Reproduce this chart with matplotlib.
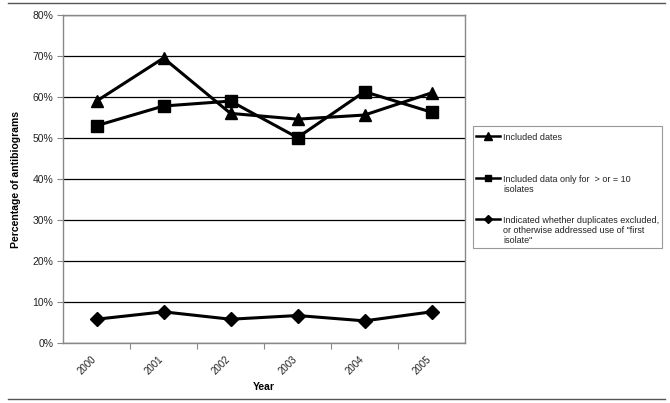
import matplotlib
matplotlib.use("Agg")
import matplotlib.pyplot as plt
from matplotlib.lines import Line2D
from matplotlib.patches import Rectangle

years = ["2000", "2001", "2002", "2003", "2004", "2005"]
included_dates = [59.0, 69.5, 56.0, 54.6, 55.6, 61.0]
data_ge10 = [53.0, 57.8, 59.0, 50.1, 61.3, 56.3]
duplicates = [5.8, 7.6, 5.8, 6.7, 5.4, 7.6]
labels = ["Included dates",
          "Included data only for  > or = 10\nisolates",
          "Indicated whether duplicates excluded,\nor otherwise addressed use of \"first\nisolate\""]
yticks = [0, 10, 20, 30, 40, 50, 60, 70, 80]

plt.rcParams['font.family'] = ['Liberation Sans', 'DejaVu Sans']

W, H = 670, 403
fig = plt.figure(figsize=(W / 100, H / 100), dpi=100)
ax = fig.add_axes([63 / W, 1 - 343 / H, (465 - 63) / W, (343 - 15) / H])

x = list(range(len(years)))
series = [(included_dates, '^', 9), (data_ge10, 's', 8), (duplicates, 'D', 7.5)]
for vals, m, ms in series:
    ax.plot(x, vals, color='black', lw=2.2, marker=m, markersize=ms, zorder=3)

ax.set_xlim(-0.5, len(years) - 0.5)
ax.set_ylim(0, 80)
ax.set_yticks(yticks)
ax.set_yticklabels([f"{v}%" for v in yticks], fontsize=7.5, color='#222222')
ax.yaxis.grid(True, color='black', lw=0.9)
ax.set_axisbelow(True)
ax.set_xticks([i + 0.5 for i in range(len(years) - 1)])
ax.set_xticklabels([])
ax.set_xticks([i - 0.08 for i in x], minor=True)
ax.set_xticklabels(years, minor=True, rotation=45, fontsize=7, ha='right', va='top',
                   rotation_mode='anchor', color='#222222')
ax.tick_params(axis='x', which='minor', length=0, pad=8)
ax.tick_params(axis='x', which='major', length=4, color='#888888', direction='out')
ax.tick_params(axis='y', length=4, color='#888888', direction='out', pad=3)
for s in ax.spines.values():
    s.set_color('#888888')
    s.set_linewidth(1)
ax.set_xlabel("Year", fontsize=7.5, fontweight='bold', labelpad=4)
ax.set_ylabel("Percentage of antibiograms", fontsize=7.5, fontweight='bold', labelpad=8)

# figure border lines
fig.add_artist(Line2D([8 / W, 665 / W], [1 - 3 / H, 1 - 3 / H], color='#555555', lw=1))
fig.add_artist(Line2D([8 / W, 665 / W], [1 - 399 / H, 1 - 399 / H], color='#555555', lw=1))

# legend box
lx0, lx1, ly0, ly1 = 473, 662, 126, 248
fig.add_artist(Rectangle((lx0 / W, 1 - ly1 / H), (lx1 - lx0) / W, (ly1 - ly0) / H,
                         transform=fig.transFigure, fill=False, edgecolor='#999999', lw=0.8))
entry_y = [136, 178, 219]
for (vals, m, ms), lab, yy in zip(series, labels, entry_y):
    fy = 1 - yy / H
    fig.add_artist(Line2D([476 / W, 500 / W], [fy, fy], color='black', lw=1.8))
    fig.add_artist(Line2D([488 / W], [fy], color='black', marker=m, markersize=ms * 0.6))
    fig.text(503 / W, fy + 3 / H, lab, fontsize=6.5, va='top', ha='left',
             linespacing=1.15, color='#222222')

fig.savefig("out.png", dpi=100)
